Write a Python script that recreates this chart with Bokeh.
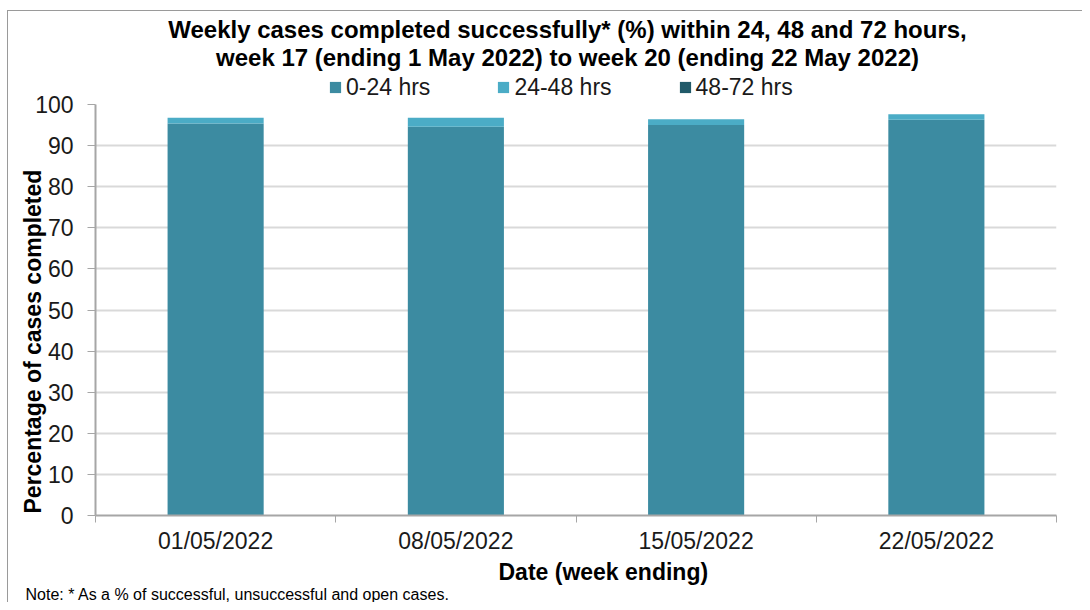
from bokeh.plotting import figure
from bokeh.layouts import column
from bokeh.models import (ColumnDataSource, FixedTicker, Label, Legend, LegendItem,
                          Range1d, Title)
from bokeh.embed import file_html
from bokeh.resources import INLINE

# ---- data ----
weeks = ["01/05/2022", "08/05/2022", "15/05/2022", "22/05/2022"]
hrs_0_24 = [95.4, 94.6, 95.0, 96.3]
hrs_24_48 = [1.4, 2.2, 1.4, 1.3]
hrs_48_72 = [0.0, 0.0, 0.0, 0.0]
series_names = ["0-24 hrs", "24-48 hrs", "48-72 hrs"]
colors = ["#3C8BA1", "#4BACC6", "#215A69"]
y_ticks = list(range(0, 101, 10))

title_line1 = "Weekly cases completed successfully* (%) within 24, 48 and 72 hours,"
title_line2 = "week 17 (ending 1 May 2022) to week 20 (ending 22 May 2022)"
y_label = "Percentage of cases completed"
x_label = "Date (week ending)"
note = "Note: * As a % of successful, unsuccessful and open cases."

FONT = "Liberation Sans"
W, H_TOP, OVERLAP = 1082, 104, 14
H_MAIN = 602 - H_TOP + OVERLAP
LEFT = 95  # frames of both figures are aligned at this x
BG = ("linear-gradient(#9a9a9a,#9a9a9a) 7px 10px / 1px 100% no-repeat, "
      "linear-gradient(#9a9a9a,#9a9a9a) 7px 10px / 100% 1px no-repeat, #ffffff")


def lab(text, x, y, size, bold=True, align="center"):
    return Label(x=x, y=y, x_units="screen", y_units="screen", text=text,
                 text_align=align, text_baseline="middle",
                 text_font=FONT, text_font_size=size,
                 text_font_style="bold" if bold else "normal", text_color="#000000")


# ---------------- header: title + legend ----------------
top = figure(width=W, height=H_TOP, output_backend="svg", toolbar_location=None,
             x_range=Range1d(0, W), y_range=Range1d(0, H_TOP),
             x_axis_location=None, y_axis_location=None,
             min_border=0, title=None)
top.grid.visible = False
top.outline_line_color = None
top.background_fill_alpha = 0
top.border_fill_alpha = 0

# zero-size proxies that only carry the legend colours
legend_renderers = [top.vbar(x=[0], top=[0], bottom=[0], width=0, fill_color=c, line_color=None)
                    for c in colors]
legend = Legend(items=[LegendItem(label=series_names[i], renderers=[legend_renderers[i]])
                       for i in range(len(series_names))],
                orientation="horizontal", location=(330 - LEFT - 2, 3.5),
                glyph_width=14, glyph_height=14, label_standoff=4, spacing=66,
                padding=0, margin=0, border_line_color=None, background_fill_alpha=0,
                label_text_font=FONT, label_text_font_size="23px", label_text_color="#1a1a1a",
                label_height=23)
top.add_layout(legend)
top.add_layout(lab(title_line1, 567 - LEFT, H_TOP - 28.5, "24px"))
top.add_layout(lab(title_line2, 567 - LEFT, H_TOP - 57, "24px"))

# ---------------- main chart ----------------
pos = [i + 0.5 for i in range(len(weeks))]
source = ColumnDataSource(dict(x=pos, s0=hrs_0_24, s1=hrs_24_48, s2=hrs_48_72))

p = figure(width=W, height=H_MAIN, output_backend="svg", toolbar_location=None,
           x_range=Range1d(0, len(weeks)), y_range=Range1d(0, 100),
           min_border_left=LEFT, min_border_right=26, min_border_top=OVERLAP,
           min_border_bottom=87, title=None,
           styles={"margin-top": f"-{OVERLAP}px"})
p.border_fill_alpha = 0
p.background_fill_color = "#ffffff"

p.vbar_stack(["s0", "s1", "s2"], x="x", width=0.4, fill_color=colors,
             line_color=None, source=source)

p.xaxis.ticker = FixedTicker(ticks=pos, minor_ticks=list(range(len(weeks) + 1)))
p.xaxis.major_label_overrides = {pos[i]: weeks[i] for i in range(len(weeks))}
p.xaxis.major_tick_line_color = None
p.xaxis.major_tick_out = 0
p.xaxis.major_tick_in = 0
p.xaxis.minor_tick_out = 7
p.xaxis.minor_tick_in = 0
p.xaxis.minor_tick_line_color = "#A6A6A6"
p.xaxis.major_label_standoff = 5
p.xgrid.grid_line_color = None

p.yaxis.ticker = FixedTicker(ticks=y_ticks, minor_ticks=[])
p.yaxis.major_tick_out = 8
p.yaxis.major_tick_in = 0
p.yaxis.major_tick_line_color = "#A6A6A6"
p.yaxis.major_label_standoff = 14
p.ygrid.grid_line_color = "#D9D9D9"
p.ygrid.grid_line_width = 2

for ax in (p.xaxis, p.yaxis):
    ax.axis_line_color = "#A6A6A6"
    ax.axis_line_width = 2
    ax.major_label_text_font = FONT
    ax.major_label_text_font_size = "23px"
    ax.major_label_text_color = "#1a1a1a"

p.outline_line_color = None

p.add_layout(Title(text=y_label, align="left", offset=2, standoff=-26,
                   text_font=FONT, text_font_size="23px", text_font_style="bold",
                   text_color="#000000"), "left")
p.add_layout(Title(text=x_label, align="left", offset=498 - LEFT, standoff=0,
                   text_font=FONT, text_font_size="23px", text_font_style="bold",
                   text_color="#000000"), "below")
p.add_layout(Title(text=note, align="left", offset=25 - LEFT, standoff=-1,
                   text_font=FONT, text_font_size="16px", text_font_style="normal",
                   text_color="#000000"), "below")

layout = column(top, p, spacing=0, styles={"background": BG})
open("out.html", "w").write(file_html(layout, INLINE))
